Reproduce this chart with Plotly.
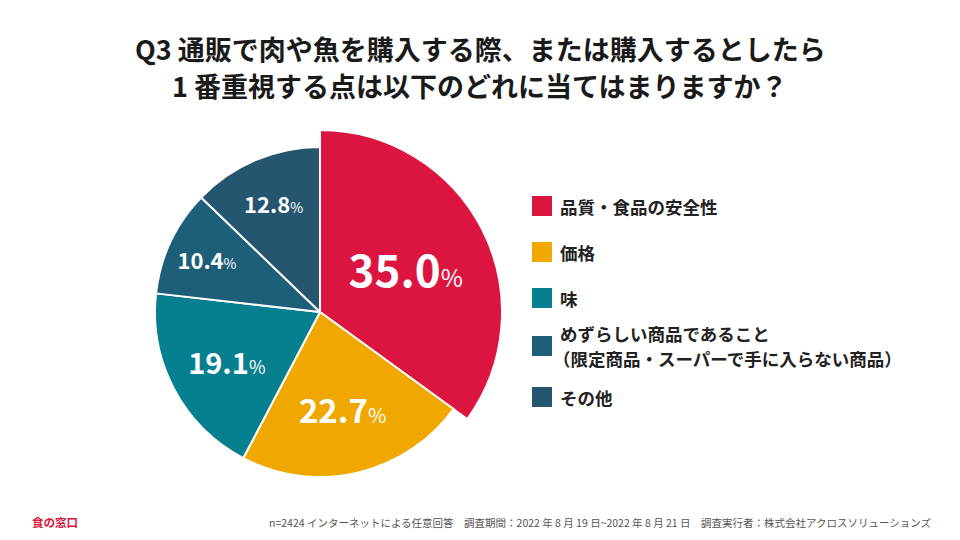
import plotly.graph_objects as go

# 回答データ（Q3 一番重視する点）
labels = ["品質・食品の安全性", "価格", "味",
          "めずらしい商品であること<br>（限定商品・スーパーで手に入らない商品）", "その他"]
values = [35.0, 22.7, 19.1, 10.4, 12.8]
colors = ["#DC1440", "#F0A800", "#067F8E", "#1D5E79", "#245670"]

num_sizes = [44, 33, 29, 22, 22]   # 数字のフォントサイズ
pct_sizes = [24, 20, 18, 14, 14]   # % のフォントサイズ

FONT = "Noto Sans CJK JP"
clear = "rgba(0,0,0,0)"

# ページには body の余白 8px があるので、その分ずらして描く
W, H, OFF = 944, 524, 8
def px(x):
    return (x - OFF) / W
def py(y):
    return 1 - (y - OFF) / H

texts = [f"<b>{v:.1f}</b><span style='font-size:{p}px'>%</span>" for v, p in zip(values, pct_sizes)]

cx, cy = 320, 312   # 円の中心（ページ上の位置）
r_big, r_small = 182, 165

fig = go.Figure()

# 大きい円（品質・食品の安全性だけ見せる）
fig.add_trace(go.Pie(
    labels=labels, values=values, sort=False, direction="clockwise",
    marker=dict(colors=[colors[0]] + [clear] * 4,
                line=dict(color="white", width=[2, 0, 0, 0, 0])),
    text=[texts[0], "", "", "", ""], textinfo="text",
    textposition="inside", insidetextorientation="horizontal",
    textfont=dict(family=FONT, color="white", size=num_sizes),
    domain=dict(x=[px(cx - r_big), px(cx + r_big)], y=[py(cy + r_big), py(cy - r_big)]),
    hoverinfo="skip", showlegend=False,
))

# 通常の円
fig.add_trace(go.Pie(
    labels=labels, values=values, sort=False, direction="clockwise",
    marker=dict(colors=[clear] + colors[1:],
                line=dict(color="white", width=[0, 2, 2, 2, 2])),
    text=[""] + texts[1:], textinfo="text",
    textposition="inside", insidetextorientation="horizontal",
    textfont=dict(family=FONT, color="white", size=num_sizes),
    domain=dict(x=[px(cx - r_small), px(cx + r_small)], y=[py(cy + r_small), py(cy - r_small)]),
    hoverinfo="skip", showlegend=False,
))

# 凡例（自作）
leg_y = [206, 252, 298, 346, 397]
for lab, col, yy in zip(labels, colors, leg_y):
    fig.add_shape(type="rect", xref="paper", yref="paper",
                  x0=px(532), x1=px(552), y0=py(yy + 10), y1=py(yy - 10),
                  fillcolor=col, line_width=0)
    lines = lab.split("<br>")
    for i, line in enumerate(lines):
        ly = yy + (i - (len(lines) - 1) / 2) * 25
        fig.add_annotation(text=f"<b>{line}</b>", xref="paper", yref="paper",
                           x=px(551 if line.startswith("（") else 558), y=py(ly),
                           xanchor="left", yanchor="middle", showarrow=False,
                           font=dict(family=FONT, size=17.5, color="#222222"))

# タイトル
title_lines = ["Q3 通販で肉や魚を購入する際、または購入するとしたら",
               "1 番重視する点は以下のどれに当てはまりますか？"]
for line, yy in zip(title_lines, [48, 85]):
    fig.add_annotation(text=f"<b>{line}</b>", xref="paper", yref="paper",
                       x=px(480), y=py(yy), xanchor="center", yanchor="middle",
                       showarrow=False, font=dict(family=FONT, size=27, color="#1a1a1a"))

# フッター
fig.add_annotation(text="<b>食の窓口</b>", xref="paper", yref="paper",
                   x=px(30), y=py(522), xanchor="left", yanchor="middle",
                   showarrow=False, font=dict(family=FONT, size=11.5, color="#DC1440"))
fig.add_annotation(text="n=2424 インターネットによる任意回答　調査期間：2022 年 8 月 19 日~2022 年 8 月 21 日　調査実行者：株式会社アクロスソリューションズ",
                   xref="paper", yref="paper",
                   x=px(933), y=py(522), xanchor="right", yanchor="middle",
                   showarrow=False, font=dict(family=FONT, size=10.5, color="#555555"))

fig.update_layout(width=W, height=H, margin=dict(l=0, r=0, t=0, b=0),
                  paper_bgcolor="white", plot_bgcolor="white")

fig.write_html("out.html")
